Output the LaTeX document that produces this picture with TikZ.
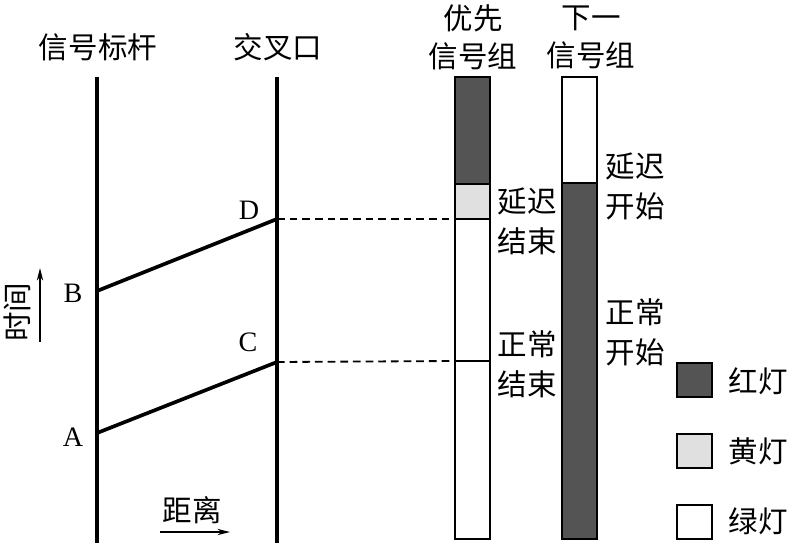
\documentclass[tikz,border=0pt]{standalone}
\usepackage{fontspec}
\setmainfont{Liberation Serif}
\newfontfamily\cjk{Noto Sans CJK SC}
\usetikzlibrary{arrows.meta, positioning, calc}
\definecolor{redlamp}{gray}{0.33}
\definecolor{amberlamp}{gray}{0.88}

\begin{document}
\begin{tikzpicture}[x=0.025cm, y=-0.025cm,
  pole/.style={line width=2.8pt},
  road/.style={line width=2.6pt},
  gap/.style={line width=1.3pt, dash pattern=on 5.5pt off 3.5pt},
  bar/.style={draw, line width=2pt},
  cn/.style={font=\cjk\fontsize{21}{28.5}\selectfont, inner sep=0pt, align=center},
  head/.style={cn, font=\cjk\fontsize{21}{27}\selectfont},
  pt/.style={font=\fontsize{20}{20}\selectfont, inner sep=0pt},
  arr/.style={-{Stealth[length=9pt, width=4.5pt]}, line width=0.8pt}
]
\useasboundingbox (0,0) rectangle (788,542);

%% 标题
\node[cn] (tpole)  at (98, 47)  {信号标杆};
\node[cn] (tcross) at (278, 47) {交叉口};
\node[head] (tprio) at (473, 37) {优先\\信号组};
\node[head] (tnext) at (591, 37) {下一\\信号组};

%% 信号标杆与交叉口
\draw[pole] (97, 77) -- (97, 545);
\draw[pole] (277, 77) -- (277, 545);

\coordinate (A) at (97, 433);
\coordinate (B) at (97, 291);
\coordinate (C) at (277, 362);
\coordinate (D) at (277, 219);
\draw[road] (A) -- (C);
\draw[road] (B) -- (D);

\node[pt] (la) at (73, 437) {A};
\node[pt] (lb) at (73, 293) {B};
\node[pt] (lc) at (248, 342) {C};
\node[pt] (ld) at (249, 210) {D};

%% 优先信号组
\fill[redlamp]   (455, 77)  rectangle (490, 184);
\fill[amberlamp] (455, 184) rectangle (490, 219);
\draw[bar] (455, 77) rectangle (490, 539);
\draw[bar] (455, 184) -- (490, 184);
\draw[bar] (455, 219) -- (490, 219);
\draw[bar] (455, 361) -- (490, 361);
\coordinate (pd) at (455, 219);
\coordinate (pc) at (455, 361);

%% 下一信号组
\fill[redlamp] (562, 183) rectangle (597, 539);
\draw[bar] (562, 77) rectangle (597, 539);
\draw[bar] (562, 183) -- (597, 183);

%% 虚线
\draw[gap] (D) -- (pd);
\draw[gap] (C) -- (pc);

%% 说明文字
\node[cn] (dend)   at (527, 221) {延迟\\结束};
\node[cn] (nend)   at (527, 364) {正常\\结束};
\node[cn] (dstart) at (635, 186) {延迟\\开始};
\node[cn] (nstart) at (635, 332) {正常\\开始};

%% 坐标轴
\node[cn, rotate=90] (time) at (17, 312) {时间};
\draw[arr] (40, 342) -- (40, 268);
\node[cn] (dist) at (192, 510) {距离};
\draw[arr] (160, 532) -- (230, 532);

%% 图例
\draw[bar, fill=redlamp]   (677, 363) rectangle (712, 397);
\draw[bar, fill=amberlamp] (677, 434) rectangle (712, 468);
\draw[bar, fill=white]     (677, 505) rectangle (712, 539);
\node[cn] (kred)   at (758, 381) {红灯};
\node[cn] (kamber) at (758, 451) {黄灯};
\node[cn] (kgreen) at (758, 521) {绿灯};

\end{tikzpicture}
\end{document}
